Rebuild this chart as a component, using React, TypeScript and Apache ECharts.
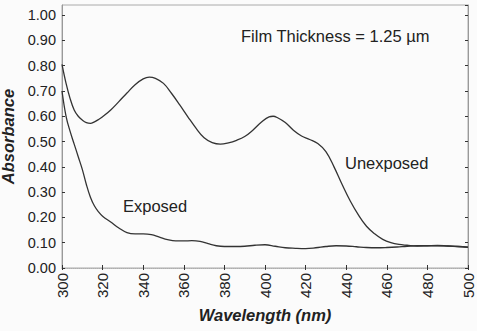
import React, { useEffect, useRef } from "react";
import * as echarts from "echarts";

const unexposedWl = [300,302,304,306,308,310,312,314,316,318,320,324,328,332,336,340,343,346,350,354,358,362,366,370,374,378,382,386,390,394,398,402,404,406,410,414,418,422,426,430,434,438,442,446,450,454,458,462,466,470,475,480,485,490,495,500];
const unexposedAbs = [0.805,0.73,0.67,0.625,0.6,0.585,0.575,0.572,0.578,0.587,0.598,0.625,0.658,0.692,0.725,0.748,0.755,0.75,0.73,0.69,0.645,0.598,0.553,0.515,0.496,0.49,0.495,0.505,0.52,0.545,0.575,0.598,0.6,0.595,0.575,0.545,0.522,0.508,0.492,0.46,0.4,0.33,0.265,0.21,0.165,0.135,0.113,0.1,0.093,0.09,0.087,0.088,0.089,0.087,0.085,0.082];

const exposedWl = [300,302,304,306,308,310,312,314,316,318,320,324,328,332,336,340,344,348,352,356,360,364,368,372,376,380,385,390,395,400,405,410,415,420,425,430,435,440,445,450,455,460,465,470,475,480,485,490,495,500];
const exposedAbs = [0.7,0.6,0.54,0.49,0.44,0.39,0.33,0.28,0.245,0.222,0.205,0.182,0.158,0.14,0.135,0.135,0.132,0.122,0.112,0.107,0.107,0.108,0.105,0.096,0.088,0.085,0.085,0.086,0.09,0.092,0.086,0.08,0.078,0.077,0.08,0.085,0.088,0.087,0.084,0.081,0.08,0.081,0.083,0.086,0.088,0.088,0.088,0.087,0.085,0.082];

const xTicks = [300,320,340,360,380,400,420,440,460,480,500];
const yTicks = [0,0.1,0.2,0.3,0.4,0.5,0.6,0.7,0.8,0.9,1.0];

const FONT = "Liberation Sans, Arial, sans-serif";

export default function App() {
  const ref = useRef<HTMLDivElement>(null);
  useEffect(() => {
    const chart = echarts.init(ref.current!, null, { renderer: "svg" });
    const pair = (xs: number[], ys: number[]) => xs.map((x, i) => [x, ys[i]]);
    const isYTick = (v: number) => yTicks.some((t) => Math.abs(t - v) < 1e-6);
    chart.setOption({
      animation: false,
      backgroundColor: "#fbfbfb",
      grid: { left: 62, right: 9, top: 5, bottom: 63, show: true, borderColor: "#aaa", borderWidth: 1, containLabel: false, outerBoundsMode: "none" },
      xAxis: [
        {
          type: "value", min: 300, max: 500, interval: 20,
          name: "Wavelength (nm)", nameLocation: "middle", nameGap: 38,
          nameTextStyle: { fontFamily: FONT, fontSize: 16.5, fontWeight: "bold", fontStyle: "italic", color: "#222" },
          axisLine: { show: true, lineStyle: { color: "#999" } },
          axisTick: { show: true, inside: true, length: 3, lineStyle: { color: "#333" } },
          axisLabel: { rotate: 90, margin: 5, fontFamily: FONT, fontSize: 15, color: "#222", formatter: (v: number) => xTicks.includes(v) ? String(v) : "" },
          splitLine: { show: false },
        },
        {
          type: "value", min: 300, max: 500, interval: 20, position: "top",
          axisLine: { show: true, lineStyle: { color: "#bbb", type: "dotted" } },
          axisTick: { show: true, inside: true, length: 2, lineStyle: { color: "#333" } },
          axisLabel: { show: false }, splitLine: { show: false },
        },
      ],
      yAxis: [
        {
          type: "value", min: 0, max: 1.04, interval: 0.1,
          name: "Absorbance", nameLocation: "middle", nameGap: 34,
          nameTextStyle: { fontFamily: FONT, fontSize: 16.5, fontWeight: "bold", fontStyle: "italic", color: "#222" },
          axisLine: { show: true, lineStyle: { color: "#999" } },
          axisTick: { show: true, inside: true, length: 3, lineStyle: { color: "#333" } },
          axisLabel: { margin: 6, fontFamily: FONT, fontSize: 14.5, color: "#222", showMaxLabel: false, formatter: (v: number) => isYTick(v) ? v.toFixed(2) : "" },
          splitLine: { show: false },
        },
        {
          type: "value", min: 0, max: 1.04, interval: 0.1, position: "right",
          axisLine: { show: true, lineStyle: { color: "#999" } },
          axisTick: { show: true, inside: true, length: 3, lineStyle: { color: "#333" } },
          axisLabel: { show: false }, splitLine: { show: false },
        },
      ],
      series: [
        {
          name: "Unexposed", type: "line", data: pair(unexposedWl, unexposedAbs),
          smooth: 0.4, showSymbol: false, lineStyle: { color: "#333", width: 1.3 },
        },
        {
          name: "Exposed", type: "line", data: pair(exposedWl, exposedAbs),
          smooth: 0.4, showSymbol: false, lineStyle: { color: "#333", width: 1.3 },
        },
      ],
      graphic: [
        { type: "text", x: 241, y: 36, style: { text: "Film Thickness = 1.25 µm", fontFamily: FONT, fontSize: 16.5, fill: "#222", textVerticalAlign: "middle" } },
        { type: "text", x: 345, y: 163, style: { text: "Unexposed", fontFamily: FONT, fontSize: 16.5, fill: "#222", textVerticalAlign: "middle" } },
        { type: "text", x: 123, y: 206, style: { text: "Exposed", fontFamily: FONT, fontSize: 16.5, fill: "#222", textVerticalAlign: "middle" } },
      ],
    });
    return () => chart.dispose();
  }, []);
  return <div ref={ref} style={{ width: 477, height: 331, position: "absolute", left: 0, top: 0 }} />;
}
